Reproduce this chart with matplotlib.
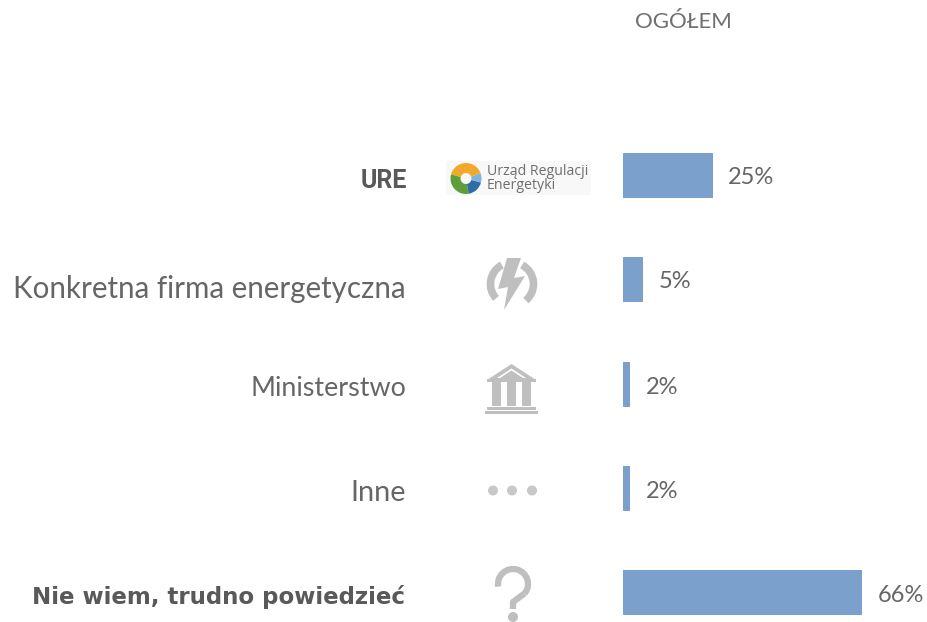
import matplotlib
matplotlib.use("Agg")
import matplotlib.pyplot as plt
from matplotlib.patches import Polygon, Rectangle, Circle, Wedge, Arc

categories = ["URE", "Konkretna firma energetyczna", "Ministerstwo", "Inne", "Nie wiem, trudno powiedzieć"]
values = [25, 5.4, 2, 2, 66]
value_labels = ["25%", "5%", "2%", "2%", "66%"]
header = "OGÓŁEM"

W, H = 928, 622
GREY = "#666666"
DARK = "#595959"
ICON = "#BFBFBF"
BAR = "#7BA0CB"
fig = plt.figure(figsize=(W / 100, H / 100), dpi=100)
fig.patch.set_facecolor("white")

# bars: real axes, 3.62 px per percent
ax_left, ax_w = 623, 305
ax = fig.add_axes([ax_left / W, 0, ax_w / W, 1])
ax.set_xlim(0, ax_w / 3.62)
ax.set_ylim(H, 0)
ax.axis("off")
ys = [175.5, 279.5, 384, 488, 592]
ax.barh(ys, values, height=45, color=BAR, linewidth=0)

# overlay in pixel coordinates for text and icons
ov = fig.add_axes([0, 0, 1, 1], facecolor="none")
ov.set_xlim(0, W)
ov.set_ylim(H, 0)
ov.axis("off")

ov.text(683.5, 22, header, ha="center", va="center", fontsize=16, color="#707070",
        family="Lato")

styles = [
    dict(x=407, y=181, fontsize=18, color=DARK, family="Roboto", fontweight="bold"),
    dict(x=406, y=289, fontsize=21.25, color=GREY, family="Lato"),
    dict(x=406, y=389, fontsize=19.4, color=GREY, family="Lato"),
    dict(x=406, y=493, fontsize=20.8, color=GREY, family="Lato"),
    dict(x=405, y=597, fontsize=16.45, color=DARK, family="DejaVu Sans", fontweight="bold"),
]
for cat, st in zip(categories, styles):
    st = dict(st)
    ov.text(st.pop("x"), st.pop("y"), cat, ha="right", va="center", **st)

label_x = [728, 659, 646, 646, 878]
label_yy = [178, 282, 387, 491, 595]
for x, y, lab in zip(label_x, label_yy, value_labels):
    ov.text(x, y, lab, ha="left", va="center", fontsize=17, color=GREY, family="Lato")

# logo (angles are data angles: the y axis is inverted)
ov.add_patch(Rectangle((446, 161), 145, 34, fc="#F8F8F8", ec="none"))
cx, cy = 466, 178.5
ov.add_patch(Wedge((cx, cy), 15.5, 195, 340, width=10, fc="#F0A92B", ec="none"))
ov.add_patch(Wedge((cx, cy), 15.5, 80, 195, width=10, fc="#5E9E3A", ec="none"))
ov.add_patch(Wedge((cx, cy), 15.5, 15, 80, width=10, fc="#2F6CA8", ec="none"))
ov.add_patch(Wedge((cx, cy), 15.5, -20, 15, width=10, fc="#7FB3DC", ec="none"))
ov.text(487, 178.5, "Urząd Regulacji\nEnergetyki", ha="left", va="center", fontsize=10.2,
        color="#6E6E6E", family="Open Sans", linespacing=0.95)

# lightning
cx, cy = 512, 284
ov.add_patch(Arc((cx, cy), 43, 43, theta1=138, theta2=242, lw=5.5, color=ICON))
ov.add_patch(Arc((cx, cy), 43, 43, theta1=-62, theta2=50, lw=5.5, color=ICON))
ov.add_patch(Polygon([(521, 258), (507, 258), (498, 289), (508, 287), (504, 310),
                      (525, 276), (514, 278)], fc=ICON, ec="none"))

# building
ov.add_patch(Polygon([(511.5, 364), (536, 380), (487, 380)], fc=ICON, ec="none"))
ov.add_patch(Polygon([(511.5, 368.5), (526, 378), (497, 378)], fc="white", ec="none"))
ov.add_patch(Polygon([(511.5, 370.5), (523, 378), (500, 378)], fc=ICON, ec="none"))
ov.add_patch(Rectangle((487, 379), 49, 3, fc=ICON, ec="none"))
for x in (492, 507, 522):
    ov.add_patch(Rectangle((x, 382), 9, 24, fc=ICON, ec="none"))
ov.add_patch(Rectangle((487, 407), 49, 3, fc=ICON, ec="none"))
ov.add_patch(Rectangle((485, 411), 53, 3, fc=ICON, ec="none"))

# dots
for x in (493, 512, 532):
    ov.add_patch(Circle((x, 490.5), 5, fc="#C8C8C8", ec="none"))

# question mark
ov.add_patch(Arc((513, 584), 30, 30, theta1=170, theta2=400, lw=4.5, color=ICON))
ov.plot([524.5, 513, 513], [593.5, 602, 609], color=ICON, lw=4.5, solid_capstyle="butt")
ov.add_patch(Circle((513, 617), 5, fc=ICON, ec="none"))

fig.savefig("out.png", dpi=100)
